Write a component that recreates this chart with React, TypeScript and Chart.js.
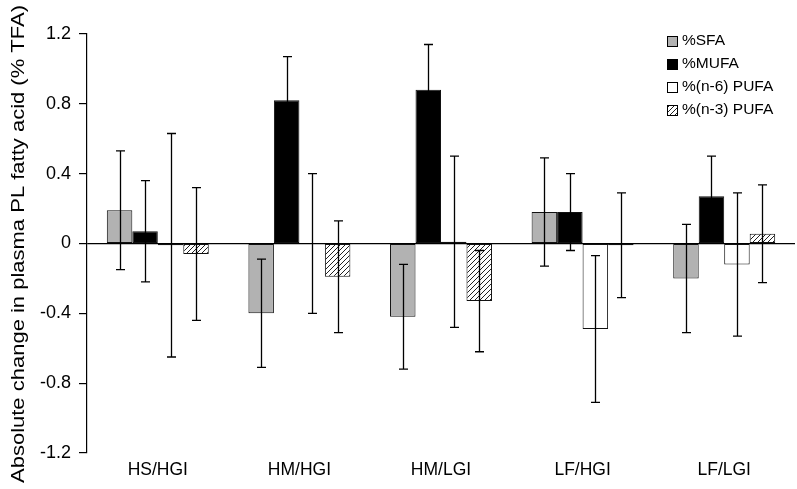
import React, { useEffect, useRef } from "react";
import { Chart, registerables } from "chart.js";

Chart.register(...registerables);

const categories = ["HS/HGI", "HM/HGI", "HM/LGI", "LF/HGI", "LF/LGI"];
const seriesLabels = ["%SFA", "%MUFA", "%(n-6) PUFA", "%(n-3) PUFA"];
const sfa = [0.19, -0.40, -0.42, 0.18, -0.20];
const mufa = [0.07, 0.82, 0.88, 0.18, 0.27];
const n6 = [-0.01, 0.0, 0.01, -0.49, -0.12];
const n3 = [-0.06, -0.19, -0.33, -0.01, 0.056];
const sfaErr = [0.34, 0.31, 0.30, 0.31, 0.31];
const mufaErr = [0.29, 0.25, 0.26, 0.22, 0.23];
const n6Err = [0.64, 0.40, 0.49, 0.42, 0.41];
const n3Err = [0.38, 0.32, 0.29, 0.30, 0.28];
const yTicks = [-1.2, -0.8, -0.4, 0, 0.4, 0.8, 1.2];
const yTitle = "Absolute change in plasma PL fatty acid (% TFA)";

const FONT = "'Liberation Sans', Arial, sans-serif";

function makeHatch(): CanvasPattern | string {
  const c = document.createElement("canvas");
  c.width = 5;
  c.height = 5;
  const g = c.getContext("2d");
  if (!g) return "#fff";
  g.fillStyle = "#fff";
  g.fillRect(0, 0, 5, 5);
  g.strokeStyle = "#222";
  g.lineWidth = 1;
  g.beginPath();
  g.moveTo(-1, 6);
  g.lineTo(6, -1);
  g.moveTo(-1, 1);
  g.lineTo(1, -1);
  g.moveTo(4, 6);
  g.lineTo(6, 4);
  g.stroke();
  return g.createPattern(c, "repeat") || "#fff";
}

export default function App() {
  const ref = useRef<HTMLCanvasElement>(null);
  useEffect(() => {
    if (!ref.current) return;
    const hatch = makeHatch();
    const errs = [sfaErr, mufaErr, n6Err, n3Err];

    const errorBars = {
      id: "errorBars",
      afterDatasetsDraw(chart: any) {
        const ctx = chart.ctx;
        const ys = chart.scales.y;
        ctx.save();
        ctx.strokeStyle = "#000";
        ctx.lineWidth = 1.3;
        chart.data.datasets.forEach((ds: any, i: number) => {
          const meta = chart.getDatasetMeta(i);
          meta.data.forEach((el: any, j: number) => {
            const v = ds.data[j];
            const e = errs[i][j];
            const x = Math.round(el.x) + 0.5;
            const yt = ys.getPixelForValue(v + e);
            const yb = ys.getPixelForValue(v - e);
            ctx.beginPath();
            ctx.moveTo(x, yt);
            ctx.lineTo(x, yb);
            ctx.moveTo(x - 4.5, yt);
            ctx.lineTo(x + 4.5, yt);
            ctx.moveTo(x - 4.5, yb);
            ctx.lineTo(x + 4.5, yb);
            ctx.stroke();
          });
        });
        ctx.restore();
      },
    };

    const extras = {
      id: "extras",
      afterDraw(chart: any) {
        const ctx = chart.ctx;
        ctx.save();
        // y title, stretched along its length
        ctx.translate(24, 244);
        ctx.rotate(-Math.PI / 2);
        ctx.font = `19px ${FONT}`;
        ctx.fillStyle = "#000";
        ctx.textAlign = "center";
        ctx.textBaseline = "alphabetic";
        const w = ctx.measureText(yTitle).width;
        ctx.scale(478 / w, 1);
        ctx.fillText(yTitle, 0, 0);
        ctx.restore();

        // legend
        ctx.save();
        ctx.font = `15.5px ${FONT}`;
        ctx.textBaseline = "middle";
        ctx.textAlign = "left";
        const rowY = [41, 64, 87, 110];
        chart.data.datasets.forEach((ds: any, i: number) => {
          const y = rowY[i];
          ctx.fillStyle = ds.backgroundColor;
          ctx.fillRect(667, y - 5, 10, 10);
          ctx.strokeStyle = "#000";
          ctx.lineWidth = 1;
          ctx.strokeRect(667.5, y - 4.5, 10, 10);
          ctx.fillStyle = "#000";
          ctx.fillText(ds.label, 682, y);
        });
        ctx.restore();
      },
    };

    const mk = (i: number, data: number[], bg: any) => ({
      label: seriesLabels[i],
      data,
      backgroundColor: bg,
      borderColor: "#111",
      borderWidth: 1,
      borderSkipped: false,
    });

    const chart = new Chart(ref.current, {
      type: "bar",
      data: {
        labels: categories,
        datasets: [
          mk(0, sfa, "#b2b2b2"),
          mk(1, mufa, "#000000"),
          mk(2, n6, "#ffffff"),
          mk(3, n3, hatch),
        ],
      },
      options: {
        animation: false,
        responsive: true,
        maintainAspectRatio: false,
        datasets: { bar: { categoryPercentage: 0.72, barPercentage: 1 } },
        layout: { padding: { left: 0, top: 34, right: 2, bottom: 0 } },
        plugins: { legend: { display: false }, tooltip: { enabled: false } },
        scales: {
          x: {
            grid: { display: false, drawTicks: false },
            border: { display: false },
            ticks: { font: { size: 17.5, family: FONT }, color: "#000", padding: 6.5 },
            afterFit: (s: any) => {
              s.height = 36;
            },
          },
          y: {
            min: -1.2,
            max: 1.2,
            afterBuildTicks: (s: any) => {
              s.ticks = yTicks.map((v) => ({ value: v }));
            },
            ticks: {
              font: { size: 18, family: FONT },
              color: "#000",
              padding: 8,
              callback: (v: any) => {
                const n = Math.round(Number(v) * 10) / 10;
                return n === 0 ? "0" : n.toFixed(1);
              },
            },
            grid: {
              drawOnChartArea: true,
              color: (c: any) =>
                c.tick && Math.abs(c.tick.value) < 1e-9 ? "#000" : "rgba(0,0,0,0)",
              tickColor: "#000",
              tickLength: 8,
              lineWidth: 1.2,
            },
            border: { display: true, color: "#000", width: 1.2 },
            afterFit: (s: any) => {
              s.width = 87;
            },
          },
        },
      },
      plugins: [errorBars, extras],
    } as any);
    return () => chart.destroy();
  }, []);
  return (
    <div style={{ position: "fixed", left: 0, top: 0, width: 797, height: 489, background: "#fff" }}>
      <canvas ref={ref} />
    </div>
  );
}
